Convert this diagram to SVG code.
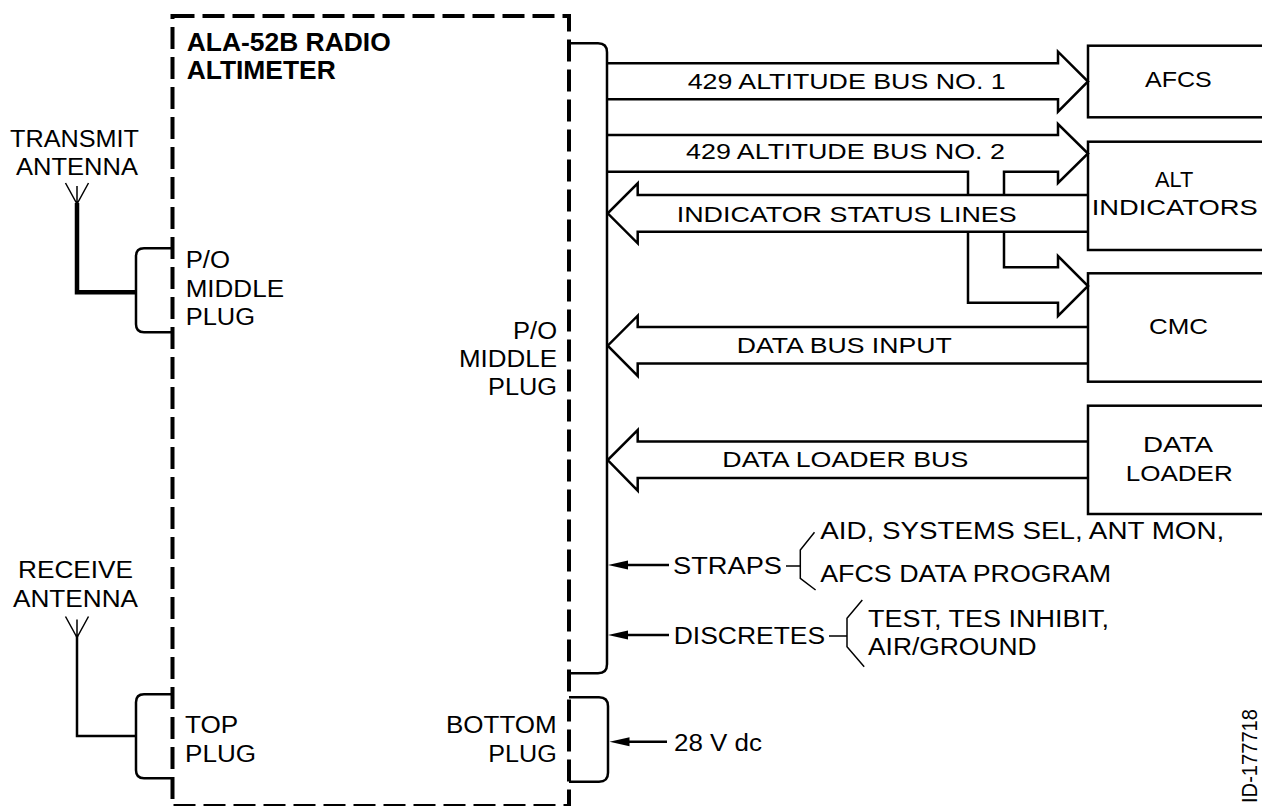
<svg xmlns="http://www.w3.org/2000/svg" width="1262" height="806" viewBox="0 0 1262 806">
<style>
.ln{fill:none;stroke:#000;stroke-width:2.5;stroke-linejoin:miter}
.thn{fill:none;stroke:#000;stroke-width:1.5}
.thk{fill:none;stroke:#000;stroke-width:4.5}
.dash{fill:none;stroke:#000;stroke-width:4;stroke-dasharray:22 8}
.box{fill:#fff;stroke:#000;stroke-width:2.5}
.ah{fill:#000;stroke:none}
.t{font-family:"Liberation Sans",Arial,Helvetica,sans-serif;font-size:22px;fill:#000}
.s23{font-size:23px}
.s24{font-size:24px}
.b{font-family:"Liberation Sans",Arial,Helvetica,sans-serif;font-size:26px;font-weight:bold;fill:#000}
</style>
<rect width="1262" height="806" fill="#fff"/>

<g id="radio-altimeter">
<rect class="dash" x="172.5" y="16" width="396.5" height="790"/>
<text class="b" x="186.7" y="51" textLength="204" lengthAdjust="spacingAndGlyphs">ALA-52B RADIO</text>
<text class="b" x="186.7" y="79" textLength="149" lengthAdjust="spacingAndGlyphs">ALTIMETER</text>
</g>

<g id="middle-plug-left">
<path class="ln" d="M172,248.3 H144 Q136,248.3 136,256.3 V324.3 Q136,332.3 144,332.3 H172"/>
<text class="t s23" x="185.7" y="268.3" textLength="44.3" lengthAdjust="spacingAndGlyphs">P/O</text>
<text class="t s23" x="185.7" y="296.7" textLength="98.3" lengthAdjust="spacingAndGlyphs">MIDDLE</text>
<text class="t s23" x="185.7" y="325" textLength="69.3" lengthAdjust="spacingAndGlyphs">PLUG</text>
</g>

<g id="top-plug">
<path class="ln" d="M172,694.3 H144 Q136,694.3 136,702.3 V770.3 Q136,778.3 144,778.3 H172"/>
<text class="t s23" x="185" y="733.3" textLength="53.3" lengthAdjust="spacingAndGlyphs">TOP</text>
<text class="t s23" x="185" y="762.3" textLength="71" lengthAdjust="spacingAndGlyphs">PLUG</text>
</g>

<g id="middle-plug-right">
<path class="ln" d="M569,43.3 H598 Q607,43.3 607,52.3 V664.3 Q607,673.3 598,673.3 H569"/>
<text class="t s23" x="557" y="338.5" text-anchor="end" textLength="44" lengthAdjust="spacingAndGlyphs">P/O</text>
<text class="t s23" x="557" y="366.5" text-anchor="end" textLength="98" lengthAdjust="spacingAndGlyphs">MIDDLE</text>
<text class="t s23" x="557" y="394.5" text-anchor="end" textLength="69" lengthAdjust="spacingAndGlyphs">PLUG</text>
</g>

<g id="bottom-plug">
<path class="ln" d="M569,697.3 H599 Q608,697.3 608,706.3 V772.7 Q608,781.7 599,781.7 H569"/>
<text class="t s23" x="556.7" y="733.3" text-anchor="end" textLength="110.7" lengthAdjust="spacingAndGlyphs">BOTTOM</text>
<text class="t s23" x="556.7" y="762.3" text-anchor="end" textLength="68.4" lengthAdjust="spacingAndGlyphs">PLUG</text>
</g>

<g id="transmit-antenna">
<text class="t s24" x="10" y="146.7" textLength="129" lengthAdjust="spacingAndGlyphs">TRANSMIT</text>
<text class="t s24" x="16" y="175" textLength="122" lengthAdjust="spacingAndGlyphs">ANTENNA</text>
<path class="thn" d="M65.5,183 L77,204 L88.5,183 M77,186 V204" stroke-width="2"/>
</g>

<g id="receive-antenna">
<text class="t s24" x="18" y="578" textLength="115" lengthAdjust="spacingAndGlyphs">RECEIVE</text>
<text class="t s24" x="13" y="606.7" textLength="125" lengthAdjust="spacingAndGlyphs">ANTENNA</text>
<path class="thn" d="M65.5,616.5 L77,637.5 L88.5,616.5 M77,619.5 V637.5" stroke-width="2"/>
</g>

<g id="afcs">
<rect class="box" x="1088" y="45.7" width="190" height="71.6"/>
<text class="t" x="1145" y="86.7" textLength="66.7" lengthAdjust="spacingAndGlyphs">AFCS</text>
</g>
<g id="alt-indicators">
<rect class="box" x="1088" y="141.7" width="190" height="108.3"/>
<text class="t" x="1155" y="186.7" textLength="38.3" lengthAdjust="spacingAndGlyphs">ALT</text>
<text class="t" x="1091.7" y="215" textLength="166" lengthAdjust="spacingAndGlyphs">INDICATORS</text>
</g>
<g id="cmc">
<rect class="box" x="1088" y="273.3" width="190" height="108.4"/>
<text class="t" x="1149" y="334" textLength="59" lengthAdjust="spacingAndGlyphs">CMC</text>
</g>
<g id="data-loader">
<rect class="box" x="1088" y="405.7" width="190" height="108.3"/>
<text class="t" x="1143" y="451.7" textLength="70" lengthAdjust="spacingAndGlyphs">DATA</text>
<text class="t" x="1125.7" y="480.7" textLength="107" lengthAdjust="spacingAndGlyphs">LOADER</text>
</g>

<g id="straps">
<text class="t s23" x="673" y="574" textLength="109" lengthAdjust="spacingAndGlyphs">STRAPS</text>
<path class="thn" d="M786,566 H800.3 M814.5,532.3 L800.3,550 V578.3 L815.6,590"/>
<text class="t s23" x="820.2" y="539.3" textLength="404" lengthAdjust="spacingAndGlyphs">AID, SYSTEMS SEL, ANT MON,</text>
<text class="t s23" x="820.2" y="581.7" textLength="291" lengthAdjust="spacingAndGlyphs">AFCS DATA PROGRAM</text>
</g>

<g id="discretes">
<text class="t s23" x="673.7" y="644" textLength="151.5" lengthAdjust="spacingAndGlyphs">DISCRETES</text>
<path class="thn" d="M829,636 H847 M862.3,600 L847,618.3 V646.7 L864.2,666.7"/>
<text class="t s23" x="868" y="626.7" textLength="241" lengthAdjust="spacingAndGlyphs">TEST, TES INHIBIT,</text>
<text class="t s23" x="868" y="655" textLength="168.5" lengthAdjust="spacingAndGlyphs">AIR/GROUND</text>
</g>

<g id="power">
<text class="t s23" x="674" y="750.7" textLength="88" lengthAdjust="spacingAndGlyphs">28 V dc</text>
</g>

<g id="connectors">
<path class="thk" d="M77,203 V292.3 H136"/>
<path class="ln" d="M77,636 V736 H136"/>
<path class="ln" d="M607,63.3 H1058 V51.7 L1088,81.5 L1058,111.7 V99.3 H607"/>
<text class="t" x="687.7" y="89.3" textLength="318" lengthAdjust="spacingAndGlyphs">429 ALTITUDE BUS NO. 1</text>
<path class="ln" d="M607,135 H1058 V124 L1088,153.5 L1058,183 V171.7 H1004 V195"/>
<path class="ln" d="M607,171.7 H968 V195"/>
<path class="ln" d="M968,231.7 V302.7 H1058 V316 L1088,286 L1058,256 V267.3 H1004 V231.7"/>
<text class="t" x="686" y="159.3" textLength="319" lengthAdjust="spacingAndGlyphs">429 ALTITUDE BUS NO. 2</text>
<path class="ln" d="M1088,195 H637.7 V183.3 L607.7,213.3 L637.7,243.3 V231.7 H1088"/>
<text class="t" x="676.7" y="221.7" textLength="340" lengthAdjust="spacingAndGlyphs">INDICATOR STATUS LINES</text>
<path class="ln" d="M1088,327 H637.7 V315.7 L607.7,345.7 L637.7,376 V363.5 H1088"/>
<text class="t" x="736.7" y="353.3" textLength="215" lengthAdjust="spacingAndGlyphs">DATA BUS INPUT</text>
<path class="ln" d="M1088,441.5 H637.7 V430 L607.7,460 L637.7,490.7 V478 H1088"/>
<text class="t" x="722.3" y="466.7" textLength="246" lengthAdjust="spacingAndGlyphs">DATA LOADER BUS</text>
<path class="ln" d="M669,565 H624"/>
<path class="ah" d="M608,565 L628,560.5 L628,569.5 Z"/>
<path class="ln" d="M669,635 H624"/>
<path class="ah" d="M608,635 L628,630.5 L628,639.5 Z"/>
<path class="ln" d="M667,741.7 H626"/>
<path class="ah" d="M609.5,741.7 L629.5,737.2 L629.5,746.2 Z"/>
</g>

<text class="t" transform="translate(1257,709) rotate(-90)" text-anchor="end" textLength="94" lengthAdjust="spacingAndGlyphs">ID-177718</text>
</svg>
